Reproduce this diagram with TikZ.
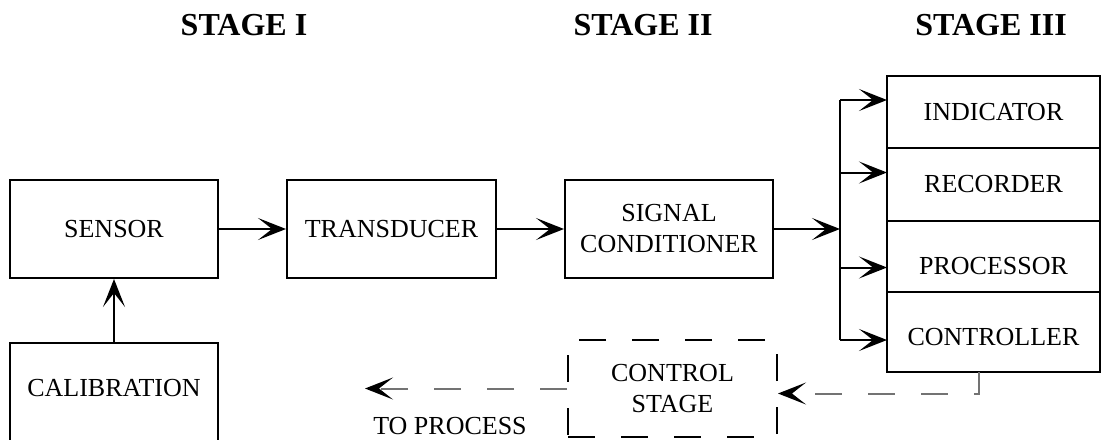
\documentclass[tikz,border=0pt]{standalone}
\usepackage{fontspec}
\setmainfont{Liberation Serif}
\usepackage{tikz}
\usetikzlibrary{arrows.meta, positioning, calc}
\definecolor{LinkGray}{HTML}{737373}
\newcommand{\bodysize}{\fontsize{26}{31}\selectfont}
\newcommand{\headsize}{\fontsize{32}{36}\selectfont\bfseries}
\tikzset{
  blockbox/.style={rectangle, draw=black, line width=2pt, minimum width=208pt, minimum height=98pt, inner sep=0pt, font=\bodysize, align=center},
  outbox/.style={rectangle, draw=black, line width=2pt, minimum width=213pt, inner sep=0pt, outer sep=0pt, font=\bodysize, align=center},
  stagelabel/.style={font=\headsize, inner sep=0pt},
  plainlabel/.style={font=\bodysize, inner sep=0pt},
  arrow/.style={-{Stealth[length=28pt, width=22pt, inset=14pt]}, line width=2pt, black},
  busline/.style={line width=2pt, black},
  grayarrow/.style={-{Stealth[length=28pt, width=22pt, inset=14pt, black]}, line width=2pt, LinkGray, dash pattern=on 27pt off 26pt},
  dashbox/.style={blockbox, dash pattern=on 27pt off 26pt}
}
\begin{document}
\begin{tikzpicture}[x=1pt, y=-1pt]
  \clip (0,0) rectangle (1102,439);

  % stage headings
  \node[stagelabel] (stageone) at (244,25) {STAGE I};
  \node[stagelabel] (stagetwo) at (643,25) {STAGE II};
  \node[stagelabel] (stagethree) at (991,25) {STAGE III};

  % main chain
  \node[blockbox] (sensor) at (114,229) {SENSOR};
  \node[blockbox, minimum width=209pt] (transducer) at (391.5,229) {TRANSDUCER};
  \node[blockbox] (sigcond) at (669,229) {SIGNAL\\CONDITIONER};
  \node[blockbox, text depth=9pt] (calib) at (114,392) {CALIBRATION};

  % output stage
  \node[outbox, minimum height=72pt] (indicator) at (993.5,112) {INDICATOR};
  \node[outbox, minimum height=73pt, below=0pt of indicator] (recorder) {RECORDER};
  \node[outbox, minimum height=71pt, text height=36pt, below=0pt of recorder] (processor) {PROCESSOR};
  \node[outbox, minimum height=80pt, text height=27pt, below=0pt of processor] (controller) {CONTROLLER};

  % control stage
  \node[dashbox, minimum width=209pt, minimum height=97pt] (cstage) at (672.5,388.5) {CONTROL\\STAGE};
  \node[plainlabel] (toproc) at (450,426) {TO PROCESS};

  \coordinate (bus) at (840,229);
  \coordinate (indin) at ([yshift=12pt]indicator.west);
  \coordinate (recin) at ([yshift=12pt]recorder.west);
  \coordinate (proin) at ([yshift=-11pt]processor.west);
  \coordinate (conin) at ([yshift=-8pt]controller.west);
  \coordinate (tap) at ([xshift=-14.5pt]controller.south);
  \coordinate (cin) at ([yshift=-5pt]cstage.east);
  \coordinate (toout) at (365,388.5);

  \draw[arrow] (calib) -- (sensor);
  \draw[arrow] (sensor) -- (transducer);
  \draw[arrow] (transducer) -- (sigcond);
  \draw[arrow] (sigcond) -- (bus);

  \draw[busline] (bus |- indin) -- (bus |- conin);
  \foreach \tgt in {indin, recin, proin, conin}
    \draw[arrow] (bus |- \tgt) -- (\tgt);

  \draw[grayarrow] (tap) |- (cin);
  \draw[grayarrow] (cstage.west) -- (toout);
\end{tikzpicture}
\end{document}
